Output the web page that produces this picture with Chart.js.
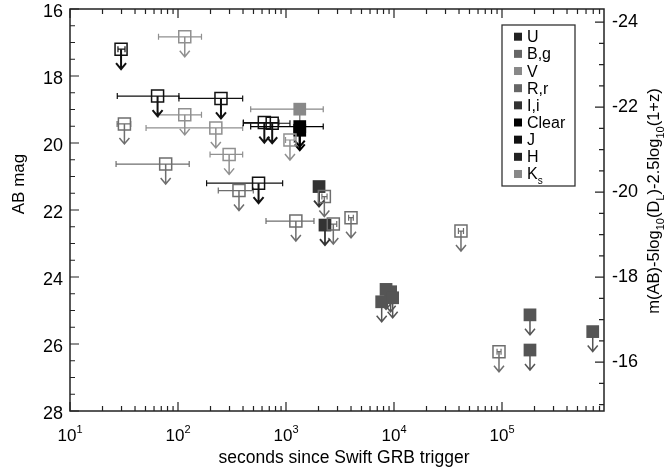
<!DOCTYPE html>
<html>
<head>
<meta charset="utf-8">
<script src="https://cdn.jsdelivr.net/npm/chart.js@4.4.1/dist/chart.umd.min.js"></script>
<style>
  html, body { margin: 0; padding: 0; background: #fff; }
</style>
</head>
<body>
<canvas id="chart" width="665" height="470"></canvas>
<script>
// seconds since trigger (marker), interval start/end, AB mag (all upper limits)
let blackOpenT   = [29.7, 64.7, 250, 557, 630, 745];
let blackOpenMag = [17.2, 18.6, 18.67, 21.2, 19.39, 19.41];
let blackOpenLo  = [27.8, 27.4, 102, 184, 403, 403];
let blackOpenHi  = [32.3, 102, 397, 931, 860, 1088];

let lightOpenT   = [115.5, 115.5, 224, 297.5, 1088];
let lightOpenMag = [16.83, 19.16, 19.55, 20.34, 19.91];
let lightOpenLo  = [66, 66, 50.6, 198, 990];
let lightOpenHi  = [165, 165, 397, 397, 1190];

let greyOpenT   = [31.9, 76.9, 367, 2265, 1234, 2742, 4000, 41700, 93800];
let greyOpenMag = [19.43, 20.63, 21.42, 21.6, 22.33, 22.42, 22.23, 22.63, 26.23];
let greyOpenLo  = [27.3, 26.7, 236, 2150, 653, 2550, 3800, 39500, 90000];
let greyOpenHi  = [36.5, 127, 498, 2400, 1816, 2950, 4200, 44000, 98000];

let vFilledT   = [1341];
let vFilledMag = [18.99];
let vFilledLo  = [471];
let vFilledHi  = [2212];

let clearFilledT   = [1341, 1341];
let clearFilledMag = [19.51, 19.62];
let clearFilledLo  = [471, null];
let clearFilledHi  = [2212, null];

let iFilledT   = [2023, 2296];
let iFilledMag = [21.3, 22.45];

let rFilledT   = [8440, 9310, 7690, 9720, 181600, 181600, 692000];
let rFilledMag = [24.37, 24.44, 24.74, 24.62, 25.13, 26.18, 25.63];

let legendBands  = ['U', 'B,g', 'V', 'R,r', 'I,i', 'Clear', 'J', 'H', 'K_{s}'];
let legendColors = ['#222', '#666', '#888', '#666', '#333', '#000', '#111', '#222', '#888'];

let xTickExp = [1, 2, 3, 4, 5];
let yTicks = [16, 18, 20, 22, 24, 26, 28];
let y2Ticks = [-24, -22, -20, -18, -16];

let xTitle = 'seconds since Swift GRB trigger';
let yTitle = 'AB mag';
let y2Title = 'm(AB)-5log_{10}(D_{L})-2.5log_{10}(1+z)';

const FONT = '"Liberation Sans", Arial, Helvetica, sans-serif';

let pts = (t, mag, lo, hi) => t.map((v, i) => ({
    x: v, y: mag[i],
    lo: lo ? lo[i] : null,
    hi: hi ? hi[i] : null
}));

let richParts = (str) => {
    let parts = [], re = /([_^])\{([^}]*)\}/g, last = 0, m;
    while ((m = re.exec(str))) {
        if (m.index > last) parts.push({ t: str.slice(last, m.index), k: '' });
        parts.push({ t: m[2], k: m[1] });
        last = re.lastIndex;
    }
    if (last < str.length) parts.push({ t: str.slice(last), k: '' });
    return parts;
};

let drawRich = (ctx, str, x, y, size, align) => {
    let parts = richParts(str);
    let small = Math.round(size * 0.65);
    let w = 0;
    parts.forEach(p => {
        ctx.font = (p.k ? small : size) + 'px ' + FONT;
        p.w = ctx.measureText(p.t).width;
        w += p.w;
    });
    let cx = align === 'center' ? x - w / 2 : x;
    ctx.textAlign = 'left';
    ctx.textBaseline = 'alphabetic';
    parts.forEach(p => {
        ctx.font = (p.k ? small : size) + 'px ' + FONT;
        let dy = p.k === '_' ? size * 0.3 : (p.k === '^' ? -size * 0.45 : 0);
        ctx.fillText(p.t, cx, y + dy);
        cx += p.w;
    });
};

// error bars and upper-limit arrows, under the markers
const limits = {
    id: 'limits',
    beforeDatasetsDraw(chart) {
        let ctx = chart.ctx, xs = chart.scales.x, ys = chart.scales.y;
        chart.data.datasets.forEach(ds => {
            ctx.save();
            ctx.strokeStyle = ds.markColor;
            ds.data.forEach(p => {
                let px = xs.getPixelForValue(p.x), py = ys.getPixelForValue(p.y);
                if (p.lo != null) {
                    let a = xs.getPixelForValue(p.lo), b = xs.getPixelForValue(p.hi);
                    ctx.lineWidth = 1.2;
                    ctx.beginPath();
                    ctx.moveTo(a, py); ctx.lineTo(b, py);
                    ctx.moveTo(a, py - 3); ctx.lineTo(a, py + 3);
                    ctx.moveTo(b, py - 3); ctx.lineTo(b, py + 3);
                    ctx.stroke();
                }
                ctx.lineWidth = ds.arrowWidth;
                ctx.beginPath();
                ctx.moveTo(px, py); ctx.lineTo(px, py + 20);
                ctx.moveTo(px - 5, py + 14); ctx.lineTo(px, py + 20); ctx.lineTo(px + 5, py + 14);
                ctx.stroke();
            });
            ctx.restore();
        });
    }
};

// frame, inward ticks, x labels with exponents, titles, legend box
const decor = {
    id: 'decor',
    afterDraw(chart) {
        let ctx = chart.ctx, a = chart.chartArea;
        let xs = chart.scales.x, ys = chart.scales.y, y2 = chart.scales.y2;
        ctx.save();
        ctx.strokeStyle = '#222';
        ctx.lineWidth = 1.5;
        ctx.strokeRect(a.left, a.top, a.right - a.left, a.bottom - a.top);

        ctx.lineWidth = 1.2;
        ctx.beginPath();
        for (let e = 1; e <= 5; e++) {
            for (let m = 1; m < 10; m++) {
                let v = m * Math.pow(10, e);
                if (v > xs.max) continue;
                let px = xs.getPixelForValue(v), L = m === 1 ? 9 : 5;
                ctx.moveTo(px, a.bottom); ctx.lineTo(px, a.bottom - L);
                ctx.moveTo(px, a.top); ctx.lineTo(px, a.top + L);
            }
        }
        for (let v = 16; v <= 28.001; v += 0.5) {
            let py = ys.getPixelForValue(v), L = v % 2 === 0 ? 9 : 5;
            ctx.moveTo(a.left, py); ctx.lineTo(a.left + L, py);
        }
        for (let v = -24.5; v <= -14.9; v += 0.5) {
            let py = y2.getPixelForValue(v);
            if (py < a.top + 1 || py > a.bottom - 1) continue;
            let L = v % 2 === 0 ? 9 : 5;
            ctx.moveTo(a.right, py); ctx.lineTo(a.right - L, py);
        }
        ctx.stroke();

        ctx.fillStyle = '#000';
        xTickExp.forEach(e => {
            drawRich(ctx, '10^{' + e + '}', xs.getPixelForValue(Math.pow(10, e)), 441, 17, 'center');
        });
        drawRich(ctx, xTitle, 344, 463, 17.5, 'center');

        ctx.save();
        ctx.translate(24, 184);
        ctx.rotate(-Math.PI / 2);
        drawRich(ctx, yTitle, 0, 0, 17, 'center');
        ctx.restore();

        ctx.save();
        ctx.translate(659, 201);
        ctx.rotate(-Math.PI / 2);
        drawRich(ctx, y2Title, 0, 0, 16.5, 'center');
        ctx.restore();

        ctx.strokeStyle = '#333';
        ctx.lineWidth = 1.3;
        ctx.strokeRect(502, 25, 73, 161);
        legendBands.forEach((b, i) => {
            let y = 36.7 + i * 17.16;
            ctx.fillStyle = legendColors[i];
            ctx.fillRect(514, y - 4, 8, 8);
            ctx.fillStyle = '#000';
            drawRich(ctx, b, 527, y + 5.5, 16, 'left');
        });
        ctx.restore();
    }
};

let noPad = s => { s.paddingTop = 0; s.paddingBottom = 0; s.paddingLeft = 0; s.paddingRight = 0; };

let openSet = (data, color, arrowWidth) => ({
    data: data, markColor: color, arrowWidth: arrowWidth,
    pointStyle: 'rect', pointRadius: 8.5, borderWidth: 1.5,
    borderColor: color, backgroundColor: 'rgba(0,0,0,0)'
});
let filledSet = (data, color, arrowWidth) => ({
    data: data, markColor: color, arrowWidth: arrowWidth,
    pointStyle: 'rect', pointRadius: 9, borderWidth: 0,
    borderColor: color, backgroundColor: color
});

let ctx = document.querySelector('#chart').getContext('2d');
const chart = new Chart(ctx, {
    type: 'scatter',
    data: {
        datasets: [
            openSet(pts(lightOpenT, lightOpenMag, lightOpenLo, lightOpenHi), '#909090', 1.5),
            openSet(pts(greyOpenT, greyOpenMag, greyOpenLo, greyOpenHi), '#6e6e6e', 1.5),
            openSet(pts(blackOpenT, blackOpenMag, blackOpenLo, blackOpenHi), '#111', 2),
            filledSet(pts(vFilledT, vFilledMag, vFilledLo, vFilledHi), '#888', 1.5),
            filledSet(pts(clearFilledT, clearFilledMag, clearFilledLo, clearFilledHi), '#000', 2),
            filledSet(pts(iFilledT, iFilledMag), '#333', 1.8),
            filledSet(pts(rFilledT, rFilledMag), '#555', 1.5)
        ]
    },
    options: {
        responsive: false,
        animation: false,
        events: [],
        layout: { padding: { top: 9, left: 0, right: 0, bottom: 0 }, autoPadding: false },
        plugins: { legend: { display: false }, tooltip: { enabled: false } },
        scales: {
            x: {
                type: 'logarithmic', min: 10, max: 880000,
                grid: { display: false, drawTicks: false }, border: { display: false },
                ticks: { display: false },
                afterFit: s => { s.height = 59; noPad(s); }
            },
            y: {
                position: 'left', reverse: true, min: 16, max: 28,
                grid: { display: false, drawTicks: false }, border: { display: false },
                afterBuildTicks: s => { s.ticks = yTicks.map(v => ({ value: v })); },
                ticks: { color: '#000', font: { family: FONT, size: 18 }, padding: 7, labelOffset: 3 },
                afterFit: s => { s.width = 70; noPad(s); }
            },
            y2: {
                position: 'right', reverse: true, min: -24.31, max: -14.85,
                grid: { display: false, drawTicks: false }, border: { display: false },
                afterBuildTicks: s => { s.ticks = y2Ticks.map(v => ({ value: v })); },
                ticks: { color: '#000', font: { family: FONT, size: 18 }, padding: 8 },
                afterFit: s => { s.width = 61; noPad(s); }
            }
        }
    },
    plugins: [limits, decor]
});
</script>
</body>
</html>
